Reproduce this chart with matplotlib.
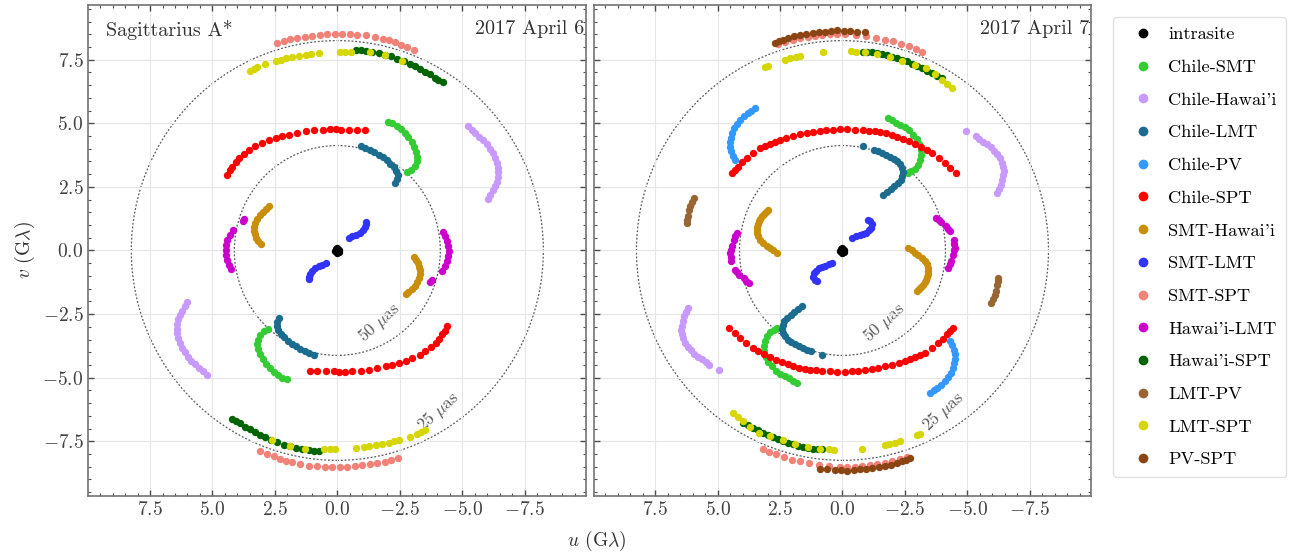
"""
uv-coverage of Sgr A* on 2017 April 6 and 7, one panel per day.
"""

import matplotlib
matplotlib.use("Agg")
import matplotlib.pyplot as plt
from matplotlib.patches import Circle
from matplotlib.lines import Line2D
from matplotlib.ticker import MultipleLocator

plt.rcParams.update({
    "font.family": "serif",
    "font.serif": ["cmr10"],
    "mathtext.fontset": "cm",
    "axes.formatter.use_mathtext": True,
    "axes.unicode_minus": True,
    "font.size": 14,
})

BASELINES = ["intrasite", "Chile-SMT", "Chile-Hawai'i", "Chile-LMT", "Chile-PV",
             "Chile-SPT", "SMT-Hawai'i", "SMT-LMT", "SMT-SPT", "Hawai'i-LMT",
             "Hawai'i-SPT", "LMT-PV", "LMT-SPT", "PV-SPT"]
COLORS = ["black", "#33cc33", "#c899ff", "#1b6c8f", "#3399ff",
          "#ff0000", "#c98f0a", "#3333ff", "#f08278", "#cc00cc",
          "#006400", "#996633", "#d6d600", "#8b4513"]

# (u, v) in Glambda, one half of each track; the conjugate (-u, -v) is added when plotting
# --- 2017 April 6 ---
apr6_intrasite = [(0.0, 0.1), (0.05, 0.05), (0.08, -0.02)]
apr6_chile_smt = [(-2.02, 5.07), (-2.2, 5.0), (-2.38, 4.9), (-2.55, 4.78), (-2.7, 4.62),
                  (-2.85, 4.45), (-2.98, 4.27), (-3.08, 4.08), (-3.16, 3.88), (-3.2, 3.68),
                  (-3.18, 3.5), (-3.1, 3.32), (-2.95, 3.17), (-2.78, 3.08)]
apr6_chile_hawaii = [(-5.23, 4.88), (-5.38, 4.75), (-5.53, 4.62), (-5.68, 4.48), (-5.84, 4.34),
                     (-5.98, 4.17), (-6.12, 4.0), (-6.22, 3.82), (-6.31, 3.64), (-6.38, 3.45),
                     (-6.42, 3.26), (-6.44, 3.07), (-6.42, 2.88), (-6.38, 2.7), (-6.31, 2.53),
                     (-6.22, 2.36), (-6.12, 2.19), (-6.02, 2.03)]
apr6_chile_lmt = [(-0.95, 4.09), (-1.12, 4.03), (-1.3, 3.95), (-1.48, 3.86), (-1.65, 3.77),
                  (-1.82, 3.66), (-1.98, 3.54), (-2.12, 3.41), (-2.25, 3.27), (-2.36, 3.12),
                  (-2.42, 2.96), (-2.4, 2.8), (-2.32, 2.66)]
apr6_chile_pv = []
apr6_chile_spt = [(4.41, 2.98), (4.3, 3.15), (4.2, 3.3), (4.07, 3.47), (3.94, 3.63),
                  (3.75, 3.8), (3.53, 3.96), (3.3, 4.1), (3.0, 4.22), (2.75, 4.33),
                  (2.46, 4.42), (2.2, 4.49), (1.93, 4.55), (1.6, 4.62), (1.26, 4.68),
                  (0.95, 4.72), (0.59, 4.75), (0.3, 4.77), (0.05, 4.77), (-0.15, 4.75),
                  (-0.45, 4.74), (-0.8, 4.73), (-1.1, 4.72)]
apr6_smt_hawaii = [(2.73, 1.73), (2.85, 1.62), (2.98, 1.5), (3.1, 1.38), (3.2, 1.24),
                   (3.28, 1.09), (3.32, 0.93), (3.32, 0.78), (3.29, 0.63), (3.24, 0.49),
                   (3.16, 0.36), (3.06, 0.24)]
apr6_smt_lmt = [(-0.45, 0.5), (-0.6, 0.56), (-0.75, 0.62), (-0.9, 0.7), (-1.02, 0.8),
                (-1.1, 0.92), (-1.15, 1.05), (-1.15, 1.13)]
apr6_smt_spt = [(2.41, 8.15), (2.15, 8.23), (1.9, 8.3), (1.6, 8.36), (1.3, 8.41),
                (1.0, 8.45), (0.7, 8.48), (0.4, 8.5), (0.1, 8.52), (-0.2, 8.52),
                (-0.5, 8.5), (-0.8, 8.48), (-1.15, 8.46), (-1.5, 8.4), (-1.82, 8.33),
                (-2.05, 8.27), (-2.3, 8.18), (-2.55, 8.09), (-2.8, 7.99), (-3.09, 7.89)]
apr6_hawaii_lmt = [(3.72, 1.22), (3.78, 1.16), (4.18, 0.8), (4.3, 0.62), (4.4, 0.42),
                   (4.45, 0.22), (4.47, 0.02), (4.45, -0.18), (4.4, -0.38), (4.33, -0.56),
                   (4.25, -0.74)]
apr6_hawaii_spt = [(-0.75, 7.89), (-0.95, 7.88), (-1.15, 7.86), (-1.4, 7.82), (-1.65, 7.77),
                   (-1.9, 7.7), (-2.15, 7.63), (-2.4, 7.54), (-2.65, 7.45), (-2.9, 7.34),
                   (-3.1, 7.24), (-3.3, 7.14), (-3.5, 7.02), (-3.7, 6.92), (-3.9, 6.8),
                   (-4.05, 6.72), (-4.23, 6.62)]
apr6_lmt_pv = []
apr6_lmt_spt = [(3.5, 7.05), (3.35, 7.12), (3.2, 7.2), (2.9, 7.33), (2.45, 7.45),
                (2.25, 7.5), (2.05, 7.55), (1.8, 7.6), (1.55, 7.64), (1.25, 7.7),
                (1.05, 7.74), (0.75, 7.78), (-0.1, 7.8), (-0.3, 7.82), (-0.55, 7.8),
                (-1.3, 7.8), (-1.9, 7.68), (-2.6, 7.46)]
apr6_pv_spt = []

# --- 2017 April 7 ---
apr7_intrasite = [(0.0, 0.1), (0.05, 0.05), (0.08, -0.02)]
apr7_chile_smt = [(-1.81, 5.2), (-1.98, 5.12), (-2.15, 5.03), (-2.32, 4.94), (-2.5, 4.85),
                  (-2.68, 4.72), (-2.83, 4.55), (-2.97, 4.37), (-3.07, 4.17), (-3.14, 3.96),
                  (-3.15, 3.75), (-3.1, 3.55), (-3.02, 3.37), (-2.9, 3.22), (-2.75, 3.12),
                  (-2.61, 3.05)]
apr7_chile_hawaii = [(-4.93, 4.7), (-5.33, 4.5), (-5.48, 4.39), (-5.63, 4.28), (-5.78, 4.17),
                     (-5.93, 4.05), (-6.06, 3.92), (-6.18, 3.78), (-6.3, 3.62), (-6.38, 3.45),
                     (-6.44, 3.28), (-6.46, 3.12), (-6.44, 2.95), (-6.4, 2.77), (-6.33, 2.59),
                     (-6.26, 2.42), (-6.2, 2.26)]
apr7_chile_lmt = [(-0.82, 4.09), (-1.28, 3.96), (-1.42, 3.91), (-1.58, 3.85), (-1.75, 3.77),
                  (-1.9, 3.69), (-2.05, 3.6), (-2.18, 3.5), (-2.3, 3.38), (-2.38, 3.24),
                  (-2.42, 3.09), (-2.4, 2.94), (-2.33, 2.79), (-2.22, 2.65), (-2.08, 2.52),
                  (-1.93, 2.4), (-1.78, 2.3), (-1.61, 2.19)]
apr7_chile_pv = [(3.5, 5.6), (3.65, 5.5), (3.8, 5.4), (3.95, 5.27), (4.1, 5.14),
                 (4.22, 4.98), (4.33, 4.8), (4.43, 4.62), (4.48, 4.43), (4.5, 4.25),
                 (4.5, 4.08), (4.45, 3.9), (4.38, 3.73), (4.3, 3.57)]
apr7_chile_spt = [(4.43, 3.04), (4.32, 3.17), (4.2, 3.3), (4.02, 3.47), (3.83, 3.63),
                  (3.58, 3.83), (3.3, 4.02), (3.1, 4.12), (2.9, 4.2), (2.7, 4.28),
                  (2.5, 4.35), (2.25, 4.43), (2.0, 4.5), (1.72, 4.56), (1.44, 4.61),
                  (1.17, 4.66), (0.9, 4.7), (0.64, 4.73), (0.38, 4.75), (0.1, 4.76),
                  (-0.2, 4.76), (-0.5, 4.75), (-0.82, 4.74), (-1.05, 4.71), (-1.3, 4.68),
                  (-1.52, 4.65), (-1.75, 4.61), (-1.98, 4.54), (-2.2, 4.47), (-2.44, 4.38),
                  (-2.68, 4.29), (-2.92, 4.19), (-3.15, 4.08), (-3.38, 3.96), (-3.6, 3.83),
                  (-3.85, 3.65), (-4.1, 3.45), (-4.32, 3.25), (-4.53, 3.04)]
apr7_smt_hawaii = [(2.97, 1.6), (3.07, 1.52), (3.15, 1.45), (3.23, 1.35), (3.3, 1.25),
                   (3.36, 1.15), (3.4, 1.05), (3.43, 0.94), (3.43, 0.82), (3.41, 0.68),
                   (3.38, 0.55), (3.3, 0.42), (3.17, 0.3), (3.04, 0.19), (2.9, 0.1),
                   (2.77, 0.0), (2.64, -0.09)]
apr7_smt_lmt = [(-0.4, 0.5), (-0.55, 0.55), (-0.7, 0.6), (-0.83, 0.65), (-0.95, 0.7),
                (-1.06, 0.8), (-1.15, 0.9), (-1.2, 1.05), (-1.12, 1.15), (-1.02, 1.2)]
apr7_smt_spt = [(2.6, 8.1), (2.3, 8.2), (2.0, 8.28), (1.7, 8.34), (1.4, 8.4),
                (1.1, 8.44), (0.8, 8.48), (0.5, 8.5), (0.2, 8.5), (-0.1, 8.5),
                (-0.55, 8.48), (-0.95, 8.42), (-1.35, 8.35), (-1.7, 8.28), (-2.01, 8.22),
                (-2.35, 8.12), (-2.68, 8.02), (-2.95, 7.92), (-3.2, 7.82)]
apr7_hawaii_lmt = [(4.23, 0.69), (4.3, 0.55), (4.36, 0.4), (4.43, 0.17), (4.47, 0.0),
                   (4.5, -0.1), (4.48, -0.25), (4.45, -0.4), (4.3, -0.75), (4.22, -0.85),
                   (4.14, -0.95), (3.95, -1.1), (3.85, -1.19), (3.74, -1.28)]
apr7_hawaii_spt = [(-0.82, 7.82), (-1.0, 7.82), (-1.2, 7.8), (-1.4, 7.77), (-1.6, 7.73),
                   (-1.8, 7.68), (-2.0, 7.62), (-2.2, 7.56), (-2.4, 7.5), (-2.6, 7.43),
                   (-2.8, 7.35), (-3.0, 7.26), (-3.2, 7.17), (-3.4, 7.07), (-3.6, 6.97),
                   (-3.8, 6.87), (-4.0, 6.77)]
apr7_lmt_pv = [(5.96, 2.06), (6.02, 1.9), (6.1, 1.75), (6.16, 1.6), (6.2, 1.35),
               (6.22, 1.2), (6.22, 1.08)]
apr7_lmt_spt = [(3.1, 7.2), (3.0, 7.27), (2.3, 7.5), (2.1, 7.55), (1.85, 7.62),
                (1.7, 7.65), (0.78, 7.82), (-0.35, 7.83), (-0.55, 7.82), (-0.9, 7.8),
                (-1.4, 7.72), (-1.9, 7.6), (-2.4, 7.45), (-2.9, 7.3), (-3.34, 7.17),
                (-3.7, 6.95), (-4.0, 6.71), (-4.2, 6.55), (-4.4, 6.38)]
apr7_pv_spt = [(2.7, 8.15), (2.55, 8.22), (2.4, 8.28), (2.2, 8.35), (1.95, 8.42),
               (1.7, 8.47), (1.45, 8.52), (1.2, 8.55), (0.95, 8.58), (0.7, 8.6),
               (0.45, 8.62), (0.2, 8.65), (-0.05, 8.63), (-0.3, 8.62), (-0.6, 8.6),
               (-0.9, 8.58)]

APR6 = [apr6_intrasite, apr6_chile_smt, apr6_chile_hawaii, apr6_chile_lmt, apr6_chile_pv,
        apr6_chile_spt, apr6_smt_hawaii, apr6_smt_lmt, apr6_smt_spt, apr6_hawaii_lmt,
        apr6_hawaii_spt, apr6_lmt_pv, apr6_lmt_spt, apr6_pv_spt]
APR7 = [apr7_intrasite, apr7_chile_smt, apr7_chile_hawaii, apr7_chile_lmt, apr7_chile_pv,
        apr7_chile_spt, apr7_smt_hawaii, apr7_smt_lmt, apr7_smt_spt, apr7_hawaii_lmt,
        apr7_hawaii_spt, apr7_lmt_pv, apr7_lmt_spt, apr7_pv_spt]

# fringe spacing circles: 1/(50 uas) and 1/(25 uas) in Glambda
RING_50 = 4.125
RING_25 = 8.25


def draw_day(ax, tracks):
    ax.grid(True, color="#e6e6e6", lw=0.8, zorder=0)
    for r in (RING_50, RING_25):
        ax.add_patch(Circle((0, 0), r, fill=False, ec="0.35", lw=0.9,
                            ls=(0, (1.5, 1.5)), zorder=1))
    ax.text(-1.7, -2.85, r"$50\ \mu$as", rotation=42, ha="center", va="center",
            fontsize=12.5, color="0.35", zorder=1)
    ax.text(-4.05, -6.35, r"$25\ \mu$as", rotation=42, ha="center", va="center",
            fontsize=12.5, color="0.35", zorder=1)
    for pts, col in zip(tracks, COLORS):
        if not pts:
            continue
        u = [p[0] for p in pts] + [-p[0] for p in pts]
        v = [p[1] for p in pts] + [-p[1] for p in pts]
        ax.scatter(u, v, s=28, color=col, lw=0, zorder=3)

    ax.set_xlim(9.97, -9.97)
    ax.set_ylim(-9.65, 9.65)
    ax.xaxis.set_major_locator(MultipleLocator(2.5))
    ax.xaxis.set_minor_locator(MultipleLocator(0.5))
    ax.yaxis.set_major_locator(MultipleLocator(2.5))
    ax.yaxis.set_minor_locator(MultipleLocator(0.5))
    ax.tick_params(which="both", direction="in", top=True, right=True, color="0.3",
                   labelcolor="0.25")
    ax.tick_params(which="major", length=4, width=1)
    ax.tick_params(which="minor", length=2.2, width=0.8)
    for sp in ax.spines.values():
        sp.set_color("0.45")
        sp.set_linewidth(1.2)


fig = plt.figure(figsize=(13.09, 5.56), dpi=100)
ax1 = fig.add_axes([0.0675, 0.108, 0.3804, 0.883])
ax2 = fig.add_axes([0.4534, 0.108, 0.3804, 0.883])

draw_day(ax1, APR6)
draw_day(ax2, APR7)
ax2.tick_params(labelleft=False)

ax1.text(0.035, 0.97, "Sagittarius A*", transform=ax1.transAxes, ha="left", va="top",
         fontsize=14.5, color="0.2")
ax1.text(0.995, 0.97, "2017 April 6", transform=ax1.transAxes, ha="right", va="top",
         fontsize=14.5, color="0.2")
ax2.text(0.995, 0.97, "2017 April 7", transform=ax2.transAxes, ha="right", va="top",
         fontsize=14.5, color="0.2")

ax1.set_ylabel(r"$v$ (G$\lambda$)", color="0.2")
fig.text(0.456, 0.027, r"$u$ (G$\lambda$)", ha="center", va="center", color="0.2",
         fontsize=14)

handles = [Line2D([], [], marker="o", ls="none", ms=7, mec="none", mfc=c) for c in COLORS]
fig.legend(handles, BASELINES, loc="upper left", bbox_to_anchor=(0.8503, 0.9694),
           borderaxespad=0, frameon=True, edgecolor="0.85", fancybox=True,
           labelspacing=0.92, handlelength=2.24, handletextpad=0.25, borderpad=0.52,
           fontsize=13.2)

plt.savefig("out.png", dpi=100)
